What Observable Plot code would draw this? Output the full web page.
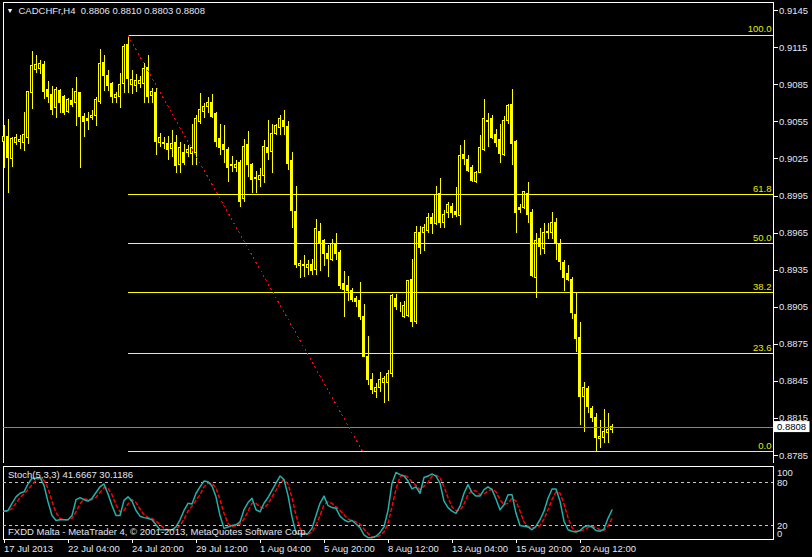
<!DOCTYPE html>
<html><head><meta charset="utf-8">
<script src="https://cdn.jsdelivr.net/npm/d3@7"></script>
<script src="https://cdn.jsdelivr.net/npm/@observablehq/plot@0.6"></script>
<style>
html,body{margin:0;padding:0;background:#000;}
#chart{position:relative;width:812px;height:557px;background:#000;overflow:hidden;}
#chart svg{position:absolute;left:0;display:block;}
</style></head><body><div id="chart"></div>
<script>
// ---------- data ----------
const titleText = "CADCHFr,H4  0.8806 0.8810 0.8803 0.8808";
const stochTitle = "Stoch(5,3,3) 41.6667 30.1186";
const footerText = "FXDD Malta - MetaTrader 4, © 2001-2013, MetaQuotes Software Corp.";

const opens = [0.9039,0.9043,0.9025,0.9038,0.9039,0.9038,0.9042,0.9078,0.9097,0.9098,
0.9101,0.9081,0.9077,0.9066,0.9080,0.9075,0.9063,0.9072,0.9070,0.9078,
0.9059,0.9057,0.9058,0.9060,0.9071,0.9103,0.9092,0.9086,0.9074,0.9075,
0.9086,0.9117,0.9085,0.9084,0.9086,0.9086,0.9099,0.9076,0.9078,0.9038,
0.9038,0.9037,0.9033,0.9038,0.9020,0.9030,0.9030,0.9029,0.9030,0.9055,
0.9063,0.9067,0.9070,0.9061,0.9041,0.9036,0.9032,0.9020,0.9018,0.9022,
0.8993,0.9036,0.9020,0.9010,0.9008,0.9011,0.9034,0.9031,0.9045,0.9050,
0.9056,0.9051,0.9023,0.8982,0.8938,0.8939,0.8937,0.8939,0.8935,0.8966,
0.8959,0.8948,0.8943,0.8956,0.8949,0.8924,0.8922,0.8918,0.8912,0.8910,
0.8897,0.8865,0.8846,0.8836,0.8840,0.8844,0.8844,0.8851,0.8912,0.8905,
0.8897,0.8898,0.8927,0.8893,0.8965,0.8965,0.8967,0.8977,0.8972,0.8997,
0.8973,0.8981,0.8986,0.8982,0.8979,0.9028,0.9024,0.9018,0.9006,0.9014,
0.9032,0.9056,0.9057,0.9044,0.9040,0.9028,0.9056,0.9069,0.9039,0.8985,
0.8985,0.8997,0.8981,0.8929,0.8960,0.8952,0.8966,0.8965,0.8973,0.8956,
0.8941,0.8932,0.8927,0.8899,0.8880,0.8832,0.8839,0.8823,0.8815,0.8798,
0.8799,0.8803,0.8806];
const highs = [0.9052,0.9057,0.9042,0.9045,0.9044,0.9063,0.9080,0.9112,0.9109,0.9105,
0.9104,0.9088,0.9084,0.9083,0.9081,0.9076,0.9074,0.9082,0.9091,0.9079,
0.9062,0.9063,0.9064,0.9075,0.9114,0.9109,0.9097,0.9087,0.9079,0.9094,
0.9118,0.9125,0.9097,0.9093,0.9092,0.9102,0.9109,0.9082,0.9082,0.9046,
0.9042,0.9043,0.9048,0.9044,0.9038,0.9037,0.9036,0.9053,0.9060,0.9078,
0.9070,0.9075,0.9077,0.9063,0.9053,0.9052,0.9034,0.9027,0.9024,0.9024,
0.9041,0.9047,0.9021,0.9015,0.9017,0.9040,0.9056,0.9053,0.9053,0.9060,
0.9064,0.9055,0.9030,0.9003,0.8943,0.8947,0.8943,0.8944,0.8976,0.8973,
0.8960,0.8955,0.8960,0.8965,0.8951,0.8934,0.8930,0.8920,0.8914,0.8925,
0.8907,0.8881,0.8851,0.8843,0.8852,0.8849,0.8854,0.8915,0.8915,0.8909,
0.8910,0.8927,0.8944,0.8970,0.8970,0.8972,0.8981,0.8981,0.9003,0.9009,
0.8983,0.8990,0.8989,0.9002,0.9036,0.9040,0.9028,0.9020,0.9015,0.9044,
0.9073,0.9062,0.9060,0.9049,0.9053,0.9059,0.9069,0.9081,0.9040,0.8988,
0.8999,0.9006,0.8984,0.8965,0.8969,0.8973,0.8973,0.8982,0.8977,0.8960,
0.8943,0.8939,0.8929,0.8916,0.8893,0.8844,0.8841,0.8825,0.8819,0.8813,
0.8822,0.8819,0.8810];
const lows = [0.9017,0.8997,0.9018,0.9036,0.9033,0.9031,0.9037,0.9065,0.9094,0.9093,
0.9073,0.9070,0.9060,0.9058,0.9062,0.9060,0.9062,0.9067,0.9051,0.9017,
0.9042,0.9048,0.9056,0.9051,0.9069,0.9080,0.9080,0.9070,0.9070,0.9066,
0.9078,0.9078,0.9077,0.9079,0.9082,0.9070,0.9070,0.9070,0.9028,0.9034,
0.9033,0.9024,0.9026,0.9013,0.9013,0.9020,0.9026,0.9020,0.9020,0.9053,
0.9058,0.9062,0.9058,0.9034,0.9028,0.9021,0.9006,0.9014,0.9014,0.8986,
0.8990,0.9010,0.8997,0.8997,0.9002,0.9005,0.9024,0.9013,0.9044,0.9044,
0.9044,0.9016,0.8969,0.8936,0.8928,0.8929,0.8931,0.8931,0.8931,0.8934,
0.8938,0.8929,0.8942,0.8943,0.8919,0.8897,0.8910,0.8909,0.8905,0.8894,
0.8864,0.8842,0.8834,0.8831,0.8836,0.8827,0.8829,0.8848,0.8902,0.8901,
0.8896,0.8897,0.8889,0.8891,0.8948,0.8950,0.8965,0.8964,0.8971,0.8969,
0.8969,0.8977,0.8977,0.8978,0.8971,0.9020,0.9014,0.9006,0.9005,0.9013,
0.9031,0.9034,0.9041,0.9034,0.9021,0.9027,0.9053,0.9020,0.8965,0.8981,
0.8984,0.8973,0.8929,0.8912,0.8947,0.8948,0.8960,0.8960,0.8943,0.8935,
0.8918,0.8926,0.8895,0.8868,0.8809,0.8804,0.8819,0.8812,0.8788,0.8791,
0.8795,0.8795,0.8803];
const closes = [0.9043,0.9026,0.9041,0.9042,0.9040,0.9044,0.9079,0.9100,0.9101,0.9102,
0.9079,0.9075,0.9065,0.9081,0.9070,0.9062,0.9073,0.9069,0.9079,0.9059,
0.9055,0.9056,0.9060,0.9073,0.9102,0.9092,0.9084,0.9075,0.9077,0.9085,
0.9116,0.9090,0.9089,0.9088,0.9088,0.9098,0.9075,0.9079,0.9039,0.9042,
0.9037,0.9032,0.9037,0.9019,0.9034,0.9022,0.9032,0.9034,0.9057,0.9065,
0.9067,0.9070,0.9059,0.9039,0.9034,0.9032,0.9018,0.9019,0.9020,0.8990,
0.9035,0.9020,0.9008,0.9009,0.9011,0.9035,0.9030,0.9045,0.9052,0.9057,
0.9051,0.9021,0.8983,0.8939,0.8940,0.8938,0.8939,0.8934,0.8968,0.8956,
0.8948,0.8944,0.8956,0.8948,0.8922,0.8919,0.8918,0.8911,0.8909,0.8897,
0.8865,0.8846,0.8838,0.8840,0.8846,0.8847,0.8851,0.8914,0.8905,0.8905,
0.8906,0.8926,0.8893,0.8965,0.8953,0.8969,0.8977,0.8972,0.8996,0.8973,
0.8980,0.8988,0.8981,0.8980,0.9027,0.9025,0.9015,0.9007,0.9014,0.9034,
0.9057,0.9055,0.9042,0.9038,0.9029,0.9056,0.9068,0.9037,0.8981,0.8984,
0.8998,0.8980,0.8930,0.8959,0.8954,0.8965,0.8965,0.8973,0.8956,0.8942,
0.8929,0.8927,0.8900,0.8879,0.8832,0.8840,0.8824,0.8815,0.8799,0.8800,
0.8804,0.8806,0.8808];

const stochK = [40,41,51,60,65,67,78,86,86,87,76,53,34,27,28,28,28,34,56,59,
56,54,58,66,74,78,64,48,34,34,55,60,54,41,33,31,30,28,21,14,
14,14,14,18,28,41,51,50,65,74,82,81,75,60,34,16,18,20,21,25,
42,52,58,42,39,51,59,69,79,89,84,62,32,9,8,8,9,16,34,51,
61,48,45,44,33,28,25,27,22,17,7,3,3,5,10,18,41,79,94,91,
89,82,71,74,65,87,89,92,89,79,54,45,40,37,47,65,77,66,61,61,
70,74,70,57,42,49,63,63,37,20,19,18,14,19,28,40,58,71,71,54,
26,14,12,11,13,18,20,18,13,12,15,30,41.6667];
const stochD = [40,40,44,51,59,64,70,77,83,86,83,72,54,38,30,28,28,30,39,50,
57,56,56,59,66,73,72,63,49,39,41,50,56,52,43,35,31,30,26,21,
16,14,14,15,20,29,40,47,55,63,74,79,79,72,56,37,23,18,20,22,
29,40,51,51,46,44,50,60,69,79,84,78,59,34,16,8,8,11,20,34,
49,53,51,46,41,35,29,27,25,22,15,9,4,4,6,11,23,46,71,88,
91,87,81,76,70,75,80,89,90,87,74,59,46,41,41,50,63,69,68,63,
64,68,71,67,56,49,51,58,54,40,25,19,17,17,20,29,42,56,67,65,
50,31,17,12,12,14,17,19,17,14,13,19,30.1186];

const timeTickIndex = [0,16,32,48,64,80,96,112,128,144];
const timeLabels = ["17 Jul 2013","22 Jul 04:00","24 Jul 20:00","29 Jul 12:00","1 Aug 04:00",
  "5 Aug 20:00","8 Aug 12:00","13 Aug 04:00","15 Aug 20:00","20 Aug 12:00"];
const priceTicks = [0.8785,0.8815,0.8845,0.8875,0.8905,0.8935,0.8965,0.8995,0.9025,0.9055,0.9085,0.9115,0.9145];

const fibHigh = 0.9125, fibLow = 0.8788;
const fibStartIndex = 31, fibEndIndex = 89.7;
const fibLevels = [0, 23.6, 38.2, 50, 61.8, 100];
const stochLevels = [80, 20];
const stochLabelsMid = [80, 20];

// ---------- layout / style ----------
const W = 812, mainH = 463, stochH = 94;
const mL = 2.5, mR = 39.5;
const xMax = 192.375;
const YEL = "#ffff00", TXT = "#e2e6f0";
const FONT = "'Liberation Sans', Arial, sans-serif";
const FS = 9.5;
const CRISP = "crispEdges";

const candles = d3.range(opens.length).map(i => ({
  i, o: opens[i], h: highs[i], l: lows[i], c: closes[i], up: closes[i] >= opens[i]
}));
const fibTable = fibLevels.map(r => ({level: r, price: fibLow + r / 100 * (fibHigh - fibLow)}));
const last = candles[candles.length - 1];
const stoch = stochK.map((k, i) => ({i, k, d: stochD[i]}));

const xScale = {type: "linear", domain: [0, xMax], range: [3.5, 773]};

const main = Plot.plot({
  width: W, height: mainH,
  marginLeft: mL, marginRight: mR, marginTop: 1.5, marginBottom: 0.5,
  style: {background: "black", color: TXT, fontFamily: FONT, fontSize: FS + "px"},
  x: {...xScale, axis: null, label: null},
  y: {domain: [0.8785, 0.9145], range: [455, 10.2], label: null},
  marks: [
    Plot.frame({stroke: "white", shapeRendering: CRISP}),
    Plot.ruleX(candles, {x: "i", y1: "l", y2: "h", stroke: YEL, shapeRendering: CRISP}),
    Plot.rect(candles.filter(d => d.up), {x1: d => d.i - 0.25, x2: d => d.i + 0.25, y1: "o", y2: "c", fill: "black", stroke: YEL, shapeRendering: CRISP}),
    Plot.rect(candles.filter(d => !d.up), {x1: d => d.i - 0.25, x2: d => d.i + 0.25, y1: "o", y2: "c", fill: YEL, stroke: YEL, shapeRendering: CRISP}),
    Plot.ruleY(fibTable, {y: "price", x1: () => fibStartIndex, x2: () => xMax, stroke: YEL, shapeRendering: CRISP}),
    Plot.text(fibTable, {x: () => xMax, y: "price", text: d => d.level.toFixed(1), textAnchor: "end", dx: -2, dy: -6, fill: "#e4ea00", fontSize: FS}),
    Plot.ruleY([last.c], {stroke: "#778899", shapeRendering: CRISP}),
    Plot.link([0], {x1: () => fibStartIndex, y1: () => fibHigh, x2: () => fibEndIndex, y2: () => fibLow, stroke: "#ff0000", strokeDasharray: "2,3", shapeRendering: CRISP}),
    Plot.axisY(priceTicks, {anchor: "right", label: null, tickFormat: d3.format(".4f"), tickSize: 4, tickPadding: 2, stroke: "white", fill: TXT, fontSize: FS, shapeRendering: CRISP}),
    Plot.rect([last.c], {y1: d => d, y2: d => d, insetTop: -5.5, insetBottom: -5.5, insetLeft: (W - mL - mR) + 1.5, insetRight: -(mR - 2.5), fill: "white"}),
    Plot.text([last.c], {y: d => d, frameAnchor: "right", dx: 4, textAnchor: "start", text: d => d.toFixed(4), fill: "black", fontSize: FS}),
    Plot.text([titleText], {frameAnchor: "top-left", dx: 15.5, dy: 9.2, lineAnchor: "middle", textAnchor: "start", text: d => d, fill: TXT, fontSize: FS}),
    Plot.text(["▼"], {frameAnchor: "top-left", dx: 7, dy: 9.2, lineAnchor: "middle", textAnchor: "middle", text: d => d, fill: "white", fontSize: 7})
  ]
});

const sub = Plot.plot({
  width: W, height: stochH,
  marginLeft: mL, marginRight: mR, marginTop: 2.5, marginBottom: 18.5,
  style: {background: "black", color: TXT, fontFamily: FONT, fontSize: FS + "px"},
  x: {...xScale, label: null},
  y: {domain: [0, 100], range: [76.33, 4.67], axis: null, label: null},
  marks: [
    Plot.frame({stroke: "white", shapeRendering: CRISP}),
    Plot.ruleY(stochLevels, {stroke: "#c8c8c8", strokeDasharray: "3,3", shapeRendering: CRISP}),
    Plot.line(stoch, {x: "i", y: "d", stroke: "#ff0000", strokeDasharray: "3,3"}),
    Plot.line(stoch, {x: "i", y: "k", stroke: "#20b2aa"}),
    Plot.axisX(timeTickIndex, {anchor: "bottom", label: null, tickFormat: d => timeLabels[timeTickIndex.indexOf(d)], tickSize: 4, tickPadding: 2, textAnchor: "start", stroke: "white", fill: TXT, fontSize: FS, shapeRendering: CRISP}),
    Plot.text([100], {y: d => d, frameAnchor: "right", dx: 4, dy: 5, textAnchor: "start", text: d => String(d), fill: TXT, fontSize: FS}),
    Plot.text(stochLabelsMid, {y: d => d, frameAnchor: "right", dx: 4, textAnchor: "start", text: d => String(d), fill: TXT, fontSize: FS}),
    Plot.text([0], {y: d => d, frameAnchor: "right", dx: 4, dy: -5.5, textAnchor: "start", text: d => String(d), fill: TXT, fontSize: FS}),
    Plot.text([stochTitle], {frameAnchor: "top-left", dx: 5, dy: 9.2, lineAnchor: "middle", textAnchor: "start", text: d => d, fill: TXT, fontSize: FS}),
    Plot.text([footerText], {frameAnchor: "bottom-left", dx: 5, dy: -6.8, lineAnchor: "middle", textAnchor: "start", text: d => d, fill: TXT, fontSize: FS})
  ]
});

const root = document.getElementById("chart");
main.style.top = "0px";
sub.style.top = mainH + "px";
root.appendChild(main);
root.appendChild(sub);
</script></body></html>
